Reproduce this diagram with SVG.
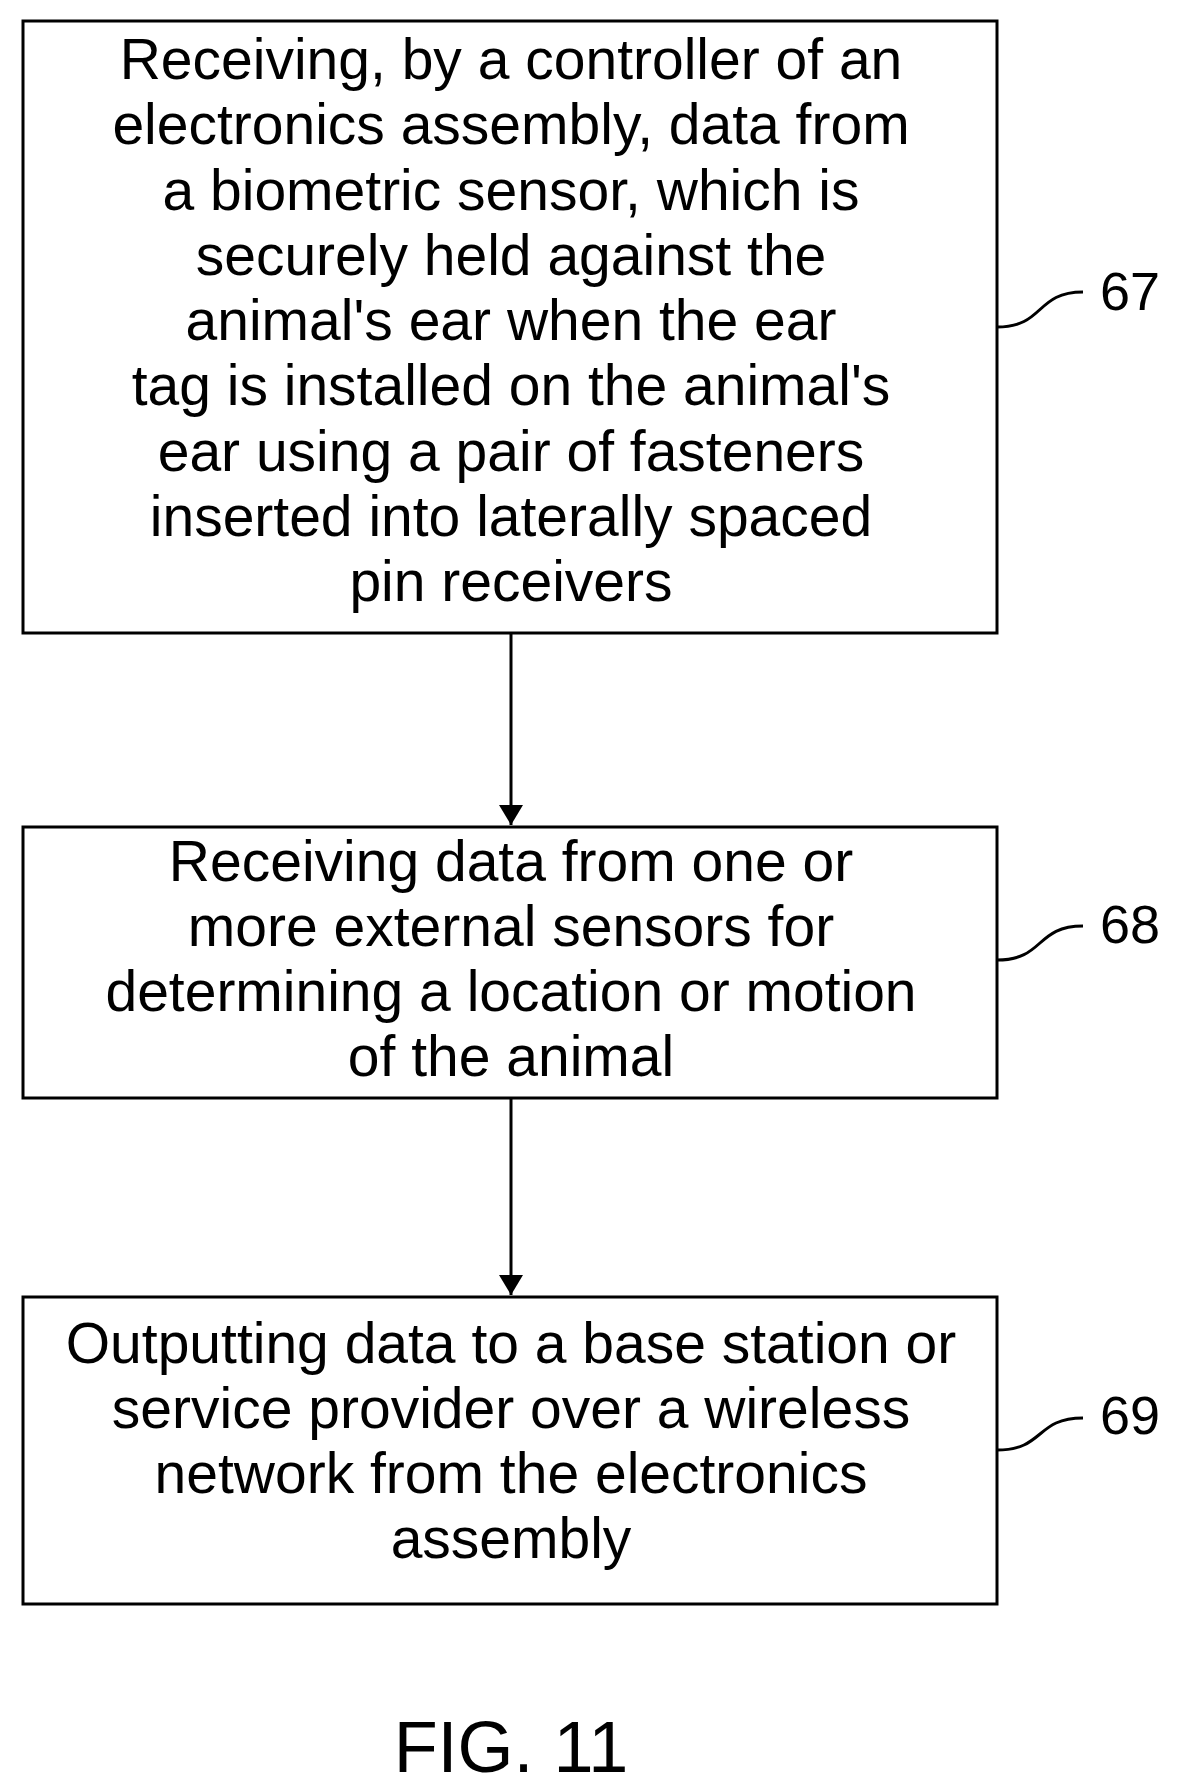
<svg xmlns="http://www.w3.org/2000/svg" width="1182" height="1791" viewBox="0 0 1182 1791">
<style>
.box{fill:#fff;stroke:#000;stroke-width:3}
.t{font-family:"Liberation Sans",Arial,sans-serif;font-size:57px;text-anchor:middle;fill:#000}
.l{font-family:"Liberation Sans",Arial,sans-serif;font-size:54px;fill:#000}
.c{fill:none;stroke:#000;stroke-width:3}
</style>
<defs>
<marker id="ah" viewBox="0 0 20 24" markerWidth="20" markerHeight="24" refX="20" refY="12" orient="auto" markerUnits="userSpaceOnUse"><path d="M0,0 L20,12 L0,24 Z" fill="#000"/></marker></defs>
<rect width="1182" height="1791" fill="#fff"/>
<g id="n67">
<rect class="box" x="23" y="21" width="974" height="612"/>
<text class="t" x="511" y="79">Receiving, by a controller of an</text>
<text class="t" x="511" y="144">electronics assembly, data from</text>
<text class="t" x="511" y="210">a biometric sensor, which is</text>
<text class="t" x="511" y="275">securely held against the</text>
<text class="t" x="511" y="340">animal's ear when the ear</text>
<text class="t" x="511" y="405">tag is installed on the animal's</text>
<text class="t" x="511" y="471">ear using a pair of fasteners</text>
<text class="t" x="511" y="536">inserted into laterally spaced</text>
<text class="t" x="511" y="601">pin receivers</text>
<path class="c" d="M997,327 C1045,327 1035,292 1083,292"/>
<text class="l" x="1100" y="310">67</text>
</g>
<g id="n68">
<rect class="box" x="23" y="827" width="974" height="271"/>
<text class="t" x="511" y="881">Receiving data from one or</text>
<text class="t" x="511" y="946">more external sensors for</text>
<text class="t" x="511" y="1011">determining a location or motion</text>
<text class="t" x="511" y="1076">of the animal</text>
<path class="c" d="M997,960 C1045,960 1035,926 1083,926"/>
<text class="l" x="1100" y="943">68</text>
</g>
<g id="n69">
<rect class="box" x="23" y="1297" width="974" height="307"/>
<text class="t" x="511" y="1363">Outputting data to a base station or</text>
<text class="t" x="511" y="1428">service provider over a wireless</text>
<text class="t" x="511" y="1493">network from the electronics</text>
<text class="t" x="511" y="1558">assembly</text>
<path class="c" d="M997,1450 C1045,1450 1035,1418 1083,1418"/>
<text class="l" x="1100" y="1434">69</text>
</g>
<g id="connectors">
<line class="c" x1="511" y1="633" x2="511" y2="825" marker-end="url(#ah)"/>
<line class="c" x1="511" y1="1098" x2="511" y2="1295" marker-end="url(#ah)"/>
</g>
<text x="511" y="1772" font-family="Liberation Sans, Arial, sans-serif" font-size="72" text-anchor="middle">FIG. 11</text>
</svg>
